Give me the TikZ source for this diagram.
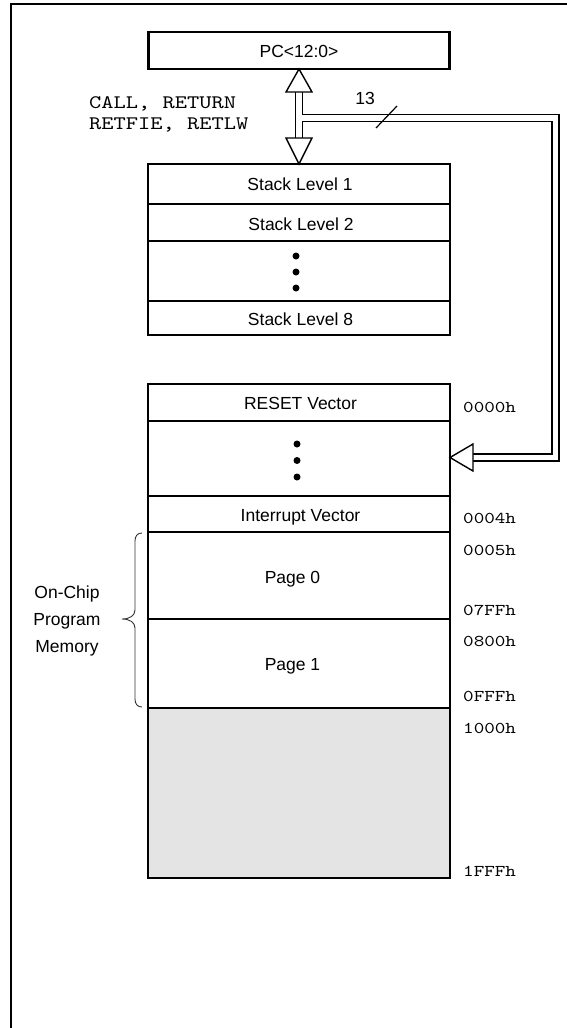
\documentclass[tikz,border=0pt]{standalone}
\usepackage{fontspec}
\setmainfont{Liberation Sans}
\newfontfamily\codefont{lmmono10-regular.otf}[FakeStretch=1.22]
\usetikzlibrary{calc}
\definecolor{unimpl}{HTML}{E4E4E4}
\tikzset{
  box/.style={draw, line width=2.2pt, inner sep=0pt, outer sep=0pt},
  rowline/.style={line width=2pt},
  lbl/.style={font=\fontsize{17.5}{20}\selectfont, anchor=base, inner sep=0pt},
  code/.style={font=\codefont\fontsize{19.1}{21}\selectfont, anchor=base west, inner sep=0pt},
  addr/.style={font=\codefont\fontsize{16.5}{20}\selectfont, anchor=base west, inner sep=0pt},
  bus/.style={double, line width=1.8pt, double distance=5.2pt, line join=miter},
  head/.style={draw, fill=white, line width=1.4pt, line join=miter},
  bigdot/.style={circle, fill, inner sep=0pt, minimum size=7pt},
}
\begin{document}
\begin{tikzpicture}[x=1pt, y=-1pt]
\useasboundingbox (0,0) rectangle (567,1028);
\clip (0,0) rectangle (567,1028);

% outer frame (continues past the right and bottom edges)
\draw[line width=2.6pt, line join=miter] (11,1040) -- (11,4) -- (580,4);

% program counter
\node[box, minimum width=301pt, minimum height=37pt] (pc) at (299,50.5) {};
\node[lbl] (pctext) at (299,57.5) {PC<12:0>};

% hardware stack
\node[box, minimum width=302pt, minimum height=171pt] (stack) at (299,249.5) {};
\draw[rowline] (stack.west |- 0,204) -- (stack.east |- 0,204);
\draw[rowline] (stack.west |- 0,241) -- (stack.east |- 0,241);
\draw[rowline] (stack.west |- 0,301) -- (stack.east |- 0,301);
\node[lbl] (s1) at (300,190) {Stack Level 1};
\node[lbl] (s2) at (301,230) {Stack Level 2};
\node[bigdot] (sd1) at (296,256) {};
\node[bigdot] (sd2) at (296,272) {};
\node[bigdot] (sd3) at (296,288) {};
\node[lbl] (s8) at (300.5,325) {Stack Level 8};

% program memory map
\node[inner sep=0pt, outer sep=0pt, minimum width=302pt, minimum height=494pt] (mem) at (299,631) {};
\fill[unimpl] (mem.west |- 0,708) rectangle (mem.south east);
\draw[line width=2.2pt] (mem.north west) rectangle (mem.south east);
\foreach \yy in {421,496,532,619,708}
  \draw[rowline] (mem.west |- 0,\yy) -- (mem.east |- 0,\yy);
\node[lbl] (reset) at (300.5,409) {RESET Vector};
\node[bigdot] (md1) at (297,444) {};
\node[bigdot] (md2) at (297,460.5) {};
\node[bigdot] (md3) at (297,477) {};
\node[lbl] (intv) at (300.5,521) {Interrupt Vector};
\node[lbl] (pg0) at (292.5,583) {Page 0};
\node[lbl] (pg1) at (292.5,670) {Page 1};

% addresses
\node[addr] (a0) at (463,412) {0000h};
\node[addr] (a4) at (463,523) {0004h};
\node[addr] (a5) at (463,555) {0005h};
\node[addr] (a7ff) at (463,615) {07FFh};
\node[addr] (a800) at (463,646) {0800h};
\node[addr] (afff) at (463,701) {0FFFh};
\node[addr] (a1000) at (463,733) {1000h};
\node[addr] (a1fff) at (463,876) {1FFFh};

% on-chip memory brace
\draw[line width=0.9pt, black!80]
  (142,533) .. controls (137.5,533) and (135,536) .. (135,541)
  -- (135,610) .. controls (135,615.5) and (130,619) .. (122,619)
  .. controls (130,619) and (135,622.5) .. (135,628)
  -- (135,699) .. controls (135,704) and (137.5,707) .. (142,707);
\node[lbl] (oc1) at (67,598) {On-Chip};
\node[lbl] (oc2) at (67,625) {Program};
\node[lbl] (oc3) at (67,652) {Memory};

% instruction labels
\node[code] (calls) at (89,108.5) {CALL, RETURN};
\node[code] (rets) at (89,129) {RETFIE, RETLW};

% 13-bit bus between PC, stack and program memory
\coordinate (upbase) at ($(pc.south)+(0,23)$);
\coordinate (lowbase) at ($(stack.north)+(0,-26)$);
\coordinate (jn) at (299,118);
\coordinate (rc) at (555.5,118);
\coordinate (tipR) at ($(mem.north east)+(0,73.5)$);
\coordinate (baseR) at ($(tipR)+(23,0)$);
\draw[bus] (upbase) -- (lowbase) (jn) -- (rc) |- (baseR);
\draw[head] (pc.south) -- ++(-13,23) -- ++(26,0) -- cycle;
\draw[head] (stack.north) -- ++(-13,-26) -- ++(26,0) -- cycle;
\draw[head] (tipR) -- ++(23,-13.5) -- ++(0,27) -- cycle;

% bus width mark
\draw[line width=1.2pt] (376,128) -- (397,106);
\node[lbl] (bw) at (365,104) {13};
\end{tikzpicture}
\end{document}
